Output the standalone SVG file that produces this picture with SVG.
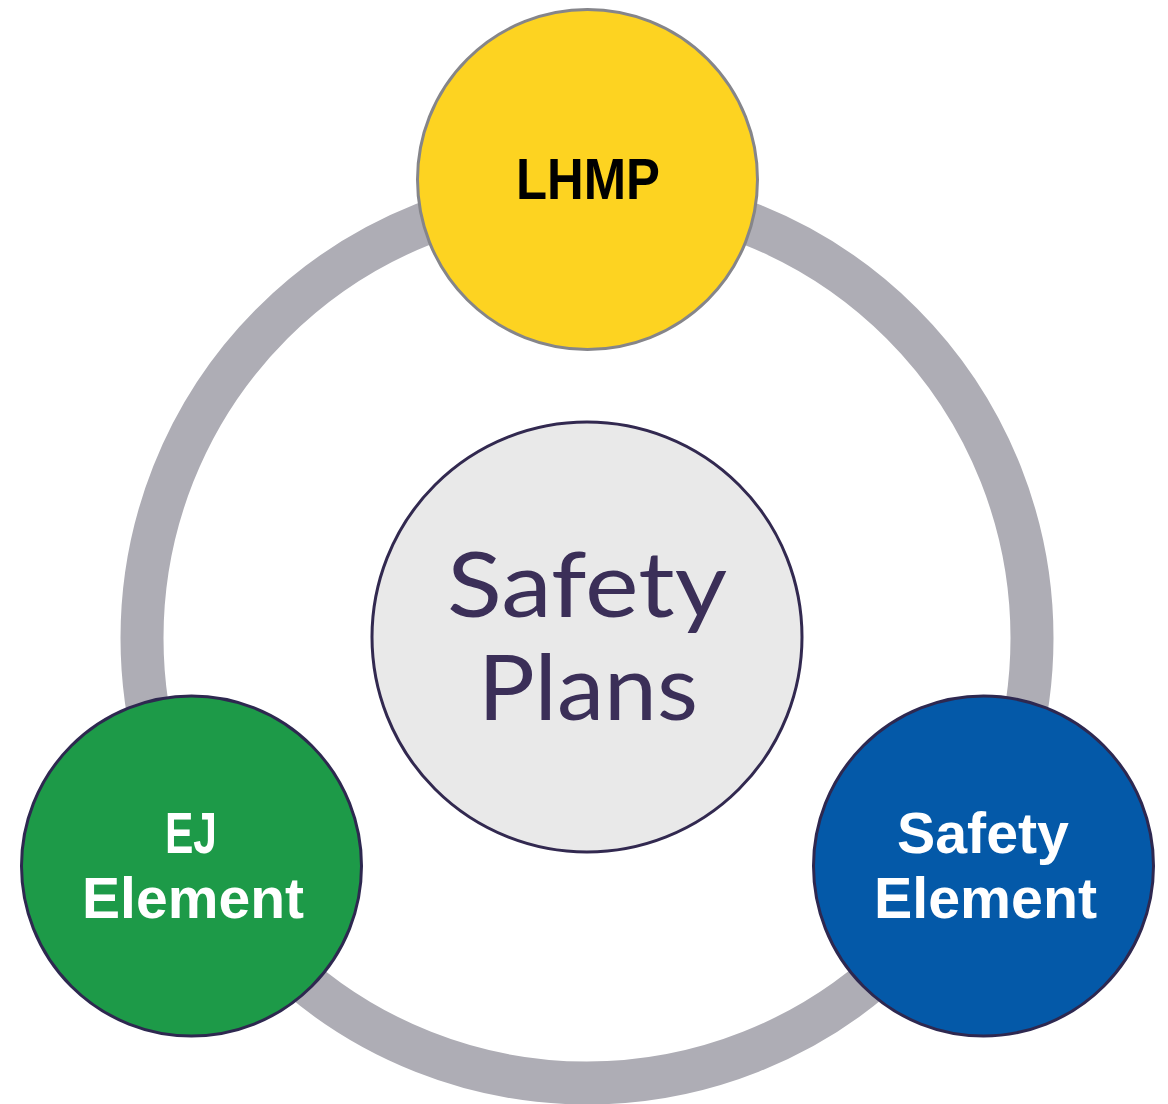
<svg xmlns="http://www.w3.org/2000/svg" width="1168" height="1104" viewBox="0 0 1168 1104">
<style>
.node-label{font-family:"Liberation Sans",Arial,sans-serif;font-weight:bold;text-anchor:middle;font-size:57px}
.center-label{font-family:Lato,"Liberation Sans",sans-serif;font-weight:normal;text-anchor:middle;font-size:92px;fill:#3B2F58}
</style>
<rect width="1168" height="1104" fill="#ffffff"/>
<g id="connectors">
<circle cx="587" cy="638" r="445" fill="none" stroke="#AEADB5" stroke-width="43"/>
</g>
<g id="node-center">
<circle cx="587" cy="637" r="215" fill="#E9E9E9" stroke="#322950" stroke-width="3"/>
<text class="center-label" x="587" y="617" textLength="280" lengthAdjust="spacingAndGlyphs">Safety</text>
<text class="center-label" x="588" y="720" textLength="220" lengthAdjust="spacingAndGlyphs">Plans</text>
</g>
<g id="node-lhmp">
<circle cx="587.5" cy="179.5" r="170" fill="#FDD321" stroke="#85858A" stroke-width="3"/>
<text class="node-label" x="588" y="199" fill="#000000" textLength="144" lengthAdjust="spacingAndGlyphs">LHMP</text>
</g>
<g id="node-ej">
<circle cx="191.5" cy="866" r="170" fill="#1D9A48" stroke="#2E2850" stroke-width="3"/>
<text class="node-label" x="191" y="853" fill="#ffffff" textLength="52" lengthAdjust="spacingAndGlyphs">EJ</text>
<text class="node-label" x="193" y="918" fill="#ffffff" textLength="222" lengthAdjust="spacingAndGlyphs">Element</text>
</g>
<g id="node-safety-element">
<circle cx="983.5" cy="866" r="170" fill="#0459A8" stroke="#2E2850" stroke-width="3"/>
<text class="node-label" x="983" y="853" fill="#ffffff" textLength="172" lengthAdjust="spacingAndGlyphs">Safety</text>
<text class="node-label" x="985.5" y="918" fill="#ffffff" textLength="223" lengthAdjust="spacingAndGlyphs">Element</text>
</g>
</svg>
